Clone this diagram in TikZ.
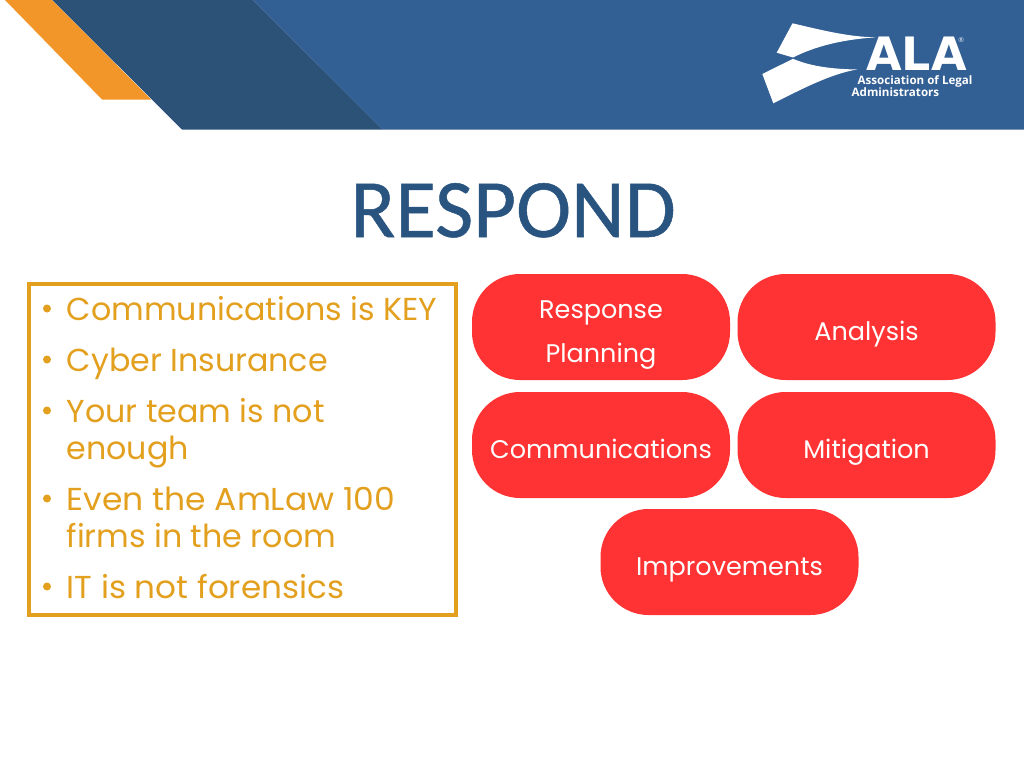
\documentclass[tikz,border=0pt]{standalone}
\usepackage{fontspec}
\setmainfont{Poppins}
\newfontfamily\titlefont[FakeBold=0.6]{Carlito}
\newfontfamily\logofont{DejaVu Sans}
\newfontfamily\logoreg{Liberation Sans}
\newfontfamily\logosub{Open Sans}
\definecolor{bannerblue}{HTML}{325F94}
\definecolor{bannerdark}{HTML}{2C5278}
\definecolor{bannerorange}{HTML}{F39629}
\definecolor{gold}{HTML}{E3A01E}
\definecolor{pillred}{HTML}{FF3333}
\definecolor{titleblue}{HTML}{2A5480}
\tikzset{
  pill/.style={fill=pillred,rounded corners=48pt,minimum width=258pt,minimum height=106pt,inner sep=0pt},
  pilltext/.style={anchor=base,text=white,inner sep=0pt,font=\fontsize{25.5}{30}\selectfont},
  bodyline/.style={anchor=base west,text=gold,inner sep=0pt,font=\fontsize{31.7}{36}\selectfont},
  bulletdot/.style={circle,fill=gold,inner sep=0pt,minimum size=8pt},
}
\begin{document}
\begin{tikzpicture}[x=1pt,y=-1pt]
\useasboundingbox (0,0) rectangle (1024,768);
\fill[white] (0,0) rectangle (1024,768);
% banner
\fill[bannerblue] (253,0) -- (1024,0) -- (1024,129.5) -- (382,129.5) -- cycle;
\fill[bannerdark] (52,0) -- (253,0) -- (382,129.5) -- (182,129.5) -- cycle;
\fill[bannerorange] (5,0) -- (52,0) -- (151,99.5) -- (102,99.5) -- cycle;
% logo
\fill[white] (792.5,23.3) .. controls (825,31) and (850,37) .. (876,37.3)
  .. controls (835,40) and (810,49) .. (793,57.5) -- (776.7,52.7) -- cycle;
\fill[white] (762.3,74) -- (793,58.8) .. controls (810,66) and (830,69) .. (857,69.5)
  .. controls (830,74) and (800,90) .. (773.3,103.3) -- cycle;
\node[anchor=base west,inner sep=0pt,text=white,font=\logofont\bfseries\fontsize{46}{46}\selectfont] (logoala) at (866,70.5) {ALA};
\node[anchor=base west,inner sep=0pt,text=white,font=\logoreg\fontsize{7}{7}\selectfont] (logoreg) at (958.5,43) {®};
\node[anchor=base west,inner sep=0pt,text=white,font=\logosub\bfseries\fontsize{11.6}{12}\selectfont] (logoa) at (857.5,84) {Association of Legal};
\node[anchor=base west,inner sep=0pt,text=white,font=\logosub\bfseries\fontsize{11.6}{12}\selectfont] (logob) at (851.5,96) {Administrators};
% title
\node[anchor=base,inner sep=0pt,text=titleblue,font=\titlefont\fontsize{83}{83}\selectfont] (title) at (513,237) {RESPOND};
% body frame
\node[draw=gold,line width=4pt,minimum width=427pt,minimum height=331pt,inner sep=0pt] (frame) at (242.5,449) {};
% body text
\node[bulletdot] (b1) at (47,308.5) {};
\node[bulletdot] (b2) at (47,359.5) {};
\node[bulletdot] (b3) at (47,410.5) {};
\node[bulletdot] (b4) at (47,498.5) {};
\node[bulletdot] (b5) at (47,586.5) {};
\node[bodyline] (t1) at (66.5,320) {Communications is KEY};
\node[bodyline] (t2) at (66.5,371) {Cyber Insurance};
\node[bodyline] (t3) at (66.5,422) {Your team is not};
\node[bodyline] (t4) at (66.5,459) {enough};
\node[bodyline] (t5) at (66.5,510) {\scalebox{1.04}[1]{Even the AmLaw 100}};
\node[bodyline] (t6) at (66.5,547) {firms in the room};
\node[bodyline] (t7) at (66.5,598) {\scalebox{1.03}[1]{IT is not forensics}};
% pills
\node[pill] (p1) at (601,327) {};
\node[pill] (p2) at (866.5,327) {};
\node[pill] (p3) at (601,445) {};
\node[pill] (p4) at (866.5,445) {};
\node[pill] (p5) at (729.5,562) {};
\node[pilltext] (l1a) at (601,318) {Response};
\node[pilltext] (l1b) at (601,362) {Planning};
\node[pilltext] (l2) at (866.5,340) {Analysis};
\node[pilltext] (l3) at (601,458) {Communications};
\node[pilltext] (l4) at (866.5,458) {Mitigation};
\node[pilltext] (l5) at (729.5,575) {Improvements};
\end{tikzpicture}
\end{document}
